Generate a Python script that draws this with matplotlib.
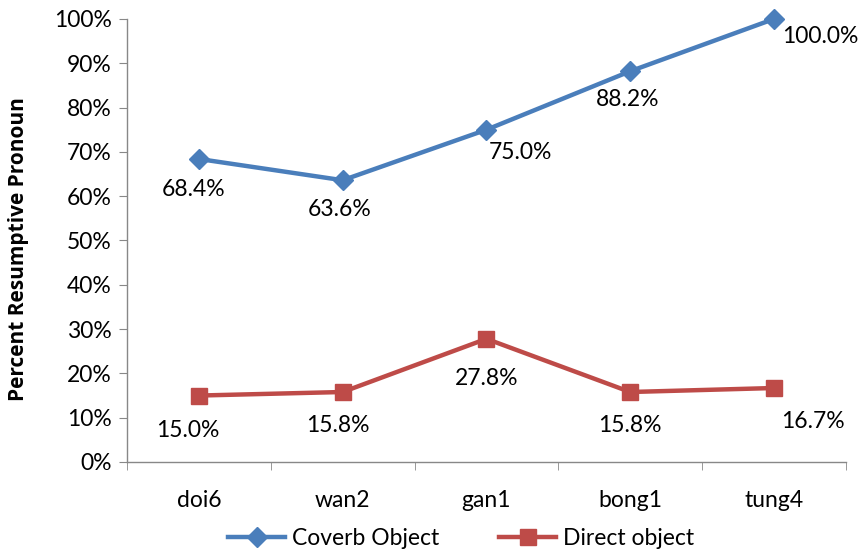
import matplotlib
matplotlib.use("Agg")
import matplotlib.pyplot as plt
from matplotlib.ticker import FixedLocator, PercentFormatter

categories = ["doi6", "wan2", "gan1", "bong1", "tung4"]
coverb = [68.4, 63.6, 75.0, 88.2, 100.0]
direct = [15.0, 15.8, 27.8, 15.8, 16.7]
coverb_name = "Coverb Object"
direct_name = "Direct object"
ylabel = "Percent Resumptive Pronoun"

plt.rcParams['font.family'] = ['Lato', 'DejaVu Sans']
FS = 16.5

fig = plt.figure(figsize=(8.66, 5.5), dpi=100)
ax = fig.add_axes([0.1467, 0.16, 0.83, 0.8055])

x = list(range(len(categories)))
blue = "#4A7EBB"
red = "#BE4B48"
ax.plot(x, coverb, color=blue, lw=3.2, marker="D", ms=10, label=coverb_name, clip_on=False, zorder=3)
ax.plot(x, direct, color=red, lw=3.2, marker="s", ms=11, label=direct_name, clip_on=False, zorder=3)

ax.set_xlim(-0.5, len(categories) - 0.5)
ax.set_ylim(0, 100)
ax.yaxis.set_major_locator(FixedLocator(range(0, 101, 10)))
ax.yaxis.set_major_formatter(PercentFormatter(decimals=0))
ax.set_xticks(x)
ax.set_xticklabels(categories)
ax.xaxis.set_minor_locator(FixedLocator([i - 0.5 for i in range(len(categories) + 1)]))
ax.tick_params(axis="x", which="major", length=0, pad=20, labelsize=FS)
ax.tick_params(axis="x", which="minor", length=6, color="#888888", direction="out")
ax.tick_params(axis="y", length=6, color="#888888", direction="out", labelsize=FS, pad=5)
for s in ["top", "right"]:
    ax.spines[s].set_visible(False)
for s in ["left", "bottom"]:
    ax.spines[s].set_color("#888888")
    ax.spines[s].set_linewidth(1)
ax.set_ylabel(ylabel, fontsize=15, fontweight="bold", family=["Open Sans", "DejaVu Sans"])
ax.yaxis.set_label_coords(-0.136, 0.48)

# data labels (offsets in pixels)
c_off = [(-5, -31), (-3, -29), (34, -23), (-3, -28), (46, -18)]
d_off = [(-11, -35), (-5, -33), (0, -40), (0, -33), (39, -33)]
for i, v in enumerate(coverb):
    ax.annotate(f"{v:.1f}%", (x[i], v), xytext=c_off[i], textcoords="offset pixels",
                ha="center", va="center", fontsize=FS)
for i, v in enumerate(direct):
    ax.annotate(f"{v:.1f}%", (x[i], v), xytext=d_off[i], textcoords="offset pixels",
                ha="center", va="center", fontsize=FS)

ax.legend(loc="center", bbox_to_anchor=(0.465, -0.172), ncol=2, frameon=False,
          fontsize=FS, handlelength=2.5, columnspacing=2.6, handletextpad=0.3)

fig.savefig("out.png", dpi=100)
